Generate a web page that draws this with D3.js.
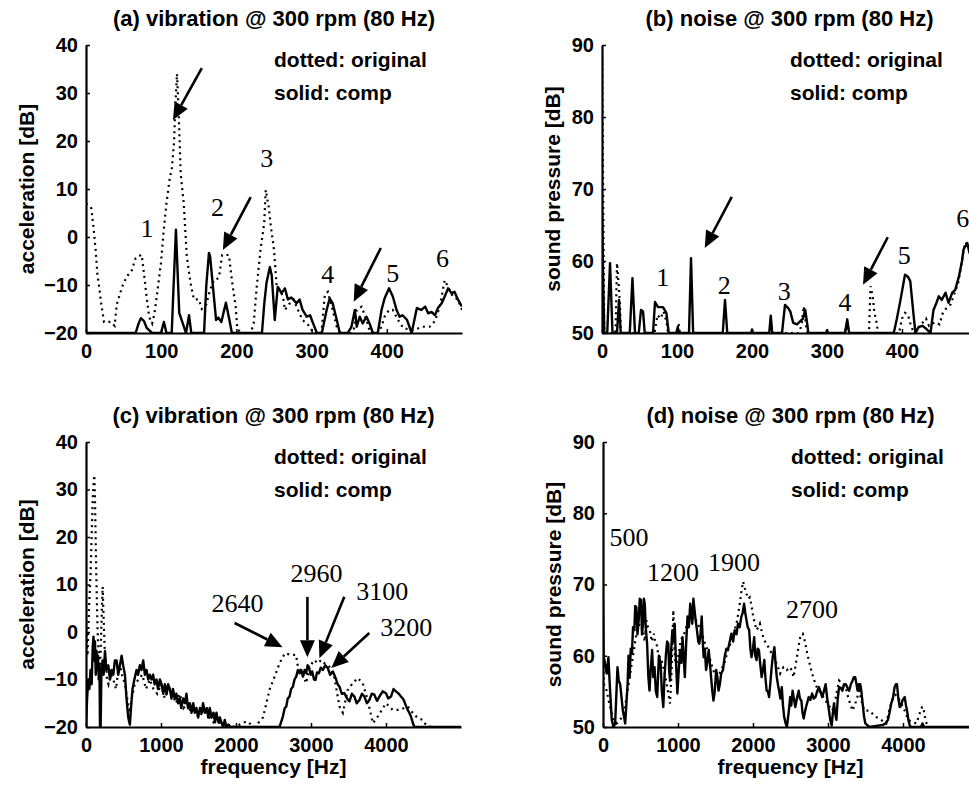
<!DOCTYPE html>
<html>
<head>
<meta charset="utf-8">
<script src="https://cdn.jsdelivr.net/npm/d3@7"></script>
<style>
  body { margin: 0; background: #fff; }
  svg { display: block; }
</style>
</head>
<body>
<div id="chart"></div>
<script>
// tick values
const xTicksLow = [0, 100, 200, 300, 400];
const xTicksHigh = [0, 1000, 2000, 3000, 4000];
const yTicksVib = [-20, -10, 0, 10, 20, 30, 40];
const yTicksNoise = [50, 60, 70, 80, 90];

const panelTitles = [
  "(a) vibration @ 300 rpm (80 Hz)",
  "(b) noise @ 300 rpm (80 Hz)",
  "(c) vibration @ 300 rpm (80 Hz)",
  "(d) noise @ 300 rpm (80 Hz)"
];
const legendLines = ["dotted: original", "solid: comp"];

// (a) vibration 0-500 Hz, [Hz, dB]
const vibLowOrig = [[0,7],[4,6.5],[7,6],[10,2],[13,-3],[15,-7.5],[18,-11],[20,-13.7],[24,-17.7],[33,-17.7],[38,-18.5],
  [41,-14],[48,-10.4],[54,-8.3],[61,-6.9],[66,-4.4],[70,-4],[74,-3.7],[77,-7.5],[80,-11.7],[84,-16.7],[88,-18],[91,-16],
  [94,-12.5],[99.7,-5.4],[103,0.8],[107,7],[111.6,12.5],[114,14],[117,19.6],[119,28],[121,34],[123,27],[126,13],[130,7],
  [134,-4],[139,-9.6],[143.5,-13],[150,-13],[154,-15],[160,-14],[165,-11],[170,-9],[173,-9],[177,-8.3],[181,-3.75],
  [190,-3.75],[194,-9],[199,-14.5],[201,-18.7],[205,-20],[219,-20],[223,-18],[227,-10.4],[232,-2.7],[237,2.9],[239,9.8],
  [243,6.25],[246,2],[250,-2.7],[253.6,-10.4],[258,-11],[262,-12.4],[264.5,-15.2],[270,-14],[276,-13],[282,-15.2],
  [288,-17.3],[298,-18.7],[302,-20],[313,-20],[317.6,-12],[321.6,-11.4],[328,-15.2],[333.5,-18.7],[338,-20],[352,-20],
  [356,-19.4],[360,-15.2],[366.5,-14.5],[373,-17.3],[378,-20],[388,-20],[393,-18.7],[397,-16.6],[403,-15.2],[408,-15.2],
  [415,-17.3],[422,-19],[435,-19.4],[448,-18.7],[457,-18.7],[464,-17.5],[470.5,-14.5],[477,-9],[481.5,-10.4],[488,-12.4],
  [494.5,-13],[500,-15.2]];
const vibLowComp = [[0,-20],[66,-20],[70,-18],[73,-16.9],[77,-17.5],[81,-19],[88,-20],[99.7,-20],[103.6,-17.7],[107,-20],
  [114,-20],[116,-12],[119.6,1.5],[122,-8],[124,-15.8],[128,-17.7],[133,-20],[137,-16.3],[140,-20],[157,-20],[160,-10],
  [163.5,-3.3],[165,-4],[168,-9],[173,-17.3],[176,-16.8],[180,-17.7],[186,-13.7],[190,-16.7],[194,-20],[234,-20],
  [237,-14],[240,-9.6],[244.5,-6.25],[247,-8],[251,-17.3],[255,-10.4],[260,-11.7],[264.5,-10.7],[268.5,-13],[273,-12.6],
  [280,-13.8],[284,-13],[288,-15.2],[293.5,-16.6],[298,-16.3],[302,-18],[307,-20],[313.6,-20],[320,-15.2],[324,-12.8],
  [328,-13.8],[333.5,-17.3],[337.5,-20],[348,-20],[353,-18.7],[357.5,-15.2],[360,-18.7],[364,-16.6],[368,-18],[373,-16.6],
  [377,-18],[381.5,-20],[388,-20],[393,-15.2],[397,-12.8],[403,-10.7],[408,-12.4],[413,-15.2],[417,-16.6],[421,-16.3],
  [427,-17.3],[433,-20],[440,-14.8],[446,-15.2],[451,-14.5],[455,-15.9],[459.5,-15.6],[464,-16.3],[468,-14.8],[473,-13.8],
  [477,-12.4],[481.5,-10.7],[486,-11.7],[490,-11.4],[494.5,-13],[500,-14.5]];

// (b) noise 0-500 Hz
const noiseLowOrig = [[0,90],[1.5,70],[3,50],[18,50],[20,59.7],[22,57],[24,54],[25,50],[70,50],[74,52.5],[78,52],[82,53],
  [86,51.5],[88,50],[100,50],[102,51.4],[104,50],[262,50],[266,51],[269,53.7],[272,51],[274,50],[324,50],[326.7,51.4],
  [329,50],[356,50],[358,56.5],[361,55],[363,53],[366,51.5],[368,50],[396,50],[400,52],[404,52.8],[408,52.5],[412,51],
  [416,50],[428,51.5],[432,52],[436,51],[444,51.5],[450,51.2],[455,53],[460,53.5],[465,54],[470,55.5],[475,57],[480,60],
  [484,62.6],[488,62.3],[492,61],[496,61.5],[500,62]];
const noiseLowComp = [[0,67],[1.5,58],[3,50],[7,50],[10.7,59.7],[14,50],[20,50],[22.7,54.6],[25,50],[37,50],[40.6,57.6],
  [44,50],[49,50],[52,53.2],[54.7,53],[57,50],[68,50],[70.7,54.3],[74.7,53.6],[81.3,53.6],[85.8,52.8],[89,50],[99,50],
  [101,50.8],[103,50],[116,50],[118.7,60.4],[121.5,50],[161,50],[164,54.6],[167,50],[199,50],[200,50.5],[201,50],[223,50],
  [225,52.4],[227,50],[240,50],[244,53.9],[248,53.5],[251,53],[255,51.4],[260,51.2],[264,51.6],[268,52],[271,53.2],[274,51],
  [275,50],[299,50],[300,50.4],[301,50],[324,50],[327,51.9],[329.5,50],[389,50],[393,51.9],[398,54.6],[404,58.1],[408,57.8],
  [411,57.2],[414,54],[416,51.9],[418,50],[422,50.8],[427,51],[431,50.7],[436,50.2],[438,50],[442,53.2],[446,54.2],
  [449,55.1],[453,54.6],[458,55.6],[462,54.2],[467,55.6],[471,56],[476,57.9],[480,60],[482,61.6],[487,62.5],[490,61.1],
  [495,62],[500,63]];

// (c) vibration 0-5000 Hz
const vibHighOrig = [[0,2],[20,-5],[40,5],[60,12],[75,20],[90,28],[100,31],[111,33],[120,28],[130,18],[140,10],[155,0],
  [170,-5],[185,-8],[200,-2],[212,5],[222,9.5],[235,3],[250,-4],[265,-6],[280,-10],[300,-11],[330,-9],[364,-10],[400,-12],
  [430,-8],[452,-7],[480,-9],[520,-11],[550,-14],[580,-17],[610,-14],[650,-11],[700,-10],[750,-9],[800,-12],[850,-10],
  [900,-12],[950,-13],[1000,-11],[1050,-14],[1100,-12],[1150,-13],[1200,-15],[1250,-13],[1300,-16],[1350,-15],[1400,-17],
  [1450,-16],[1500,-18],[1550,-17],[1600,-16],[1650,-18],[1700,-19],[1750,-18],[1800,-20],[1870,-19.5],[1950,-20],
  [2050,-19.5],[2140,-18.8],[2250,-20],[2360,-18],[2450,-12],[2515,-9.4],[2580,-6.6],[2650,-4.5],[2740,-4.8],[2800,-4.8],
  [2825,-7.3],[2890,-8.7],[2935,-10.8],[2980,-7.3],[3045,-5.9],[3090,-6.6],[3135,-5.9],[3180,-6.6],[3245,-7.3],[3310,-9.4],
  [3380,-15.7],[3425,-17],[3490,-12.2],[3555,-10.8],[3625,-9.7],[3690,-10.8],[3755,-14.3],[3825,-19.2],[3890,-17.8],
  [4000,-15],[4090,-16.4],[4180,-16.4],[4290,-15.7],[4355,-17],[4420,-18.1],[4490,-18.5],[4530,-19.5],[4600,-20]];
const vibHighComp = [[0,-20],[15,-14],[30,-10],[45,-12],[60,-8],[75,-11],[90,-3],[100,-1],[110,-6],[120,-2],[130,-9],
  [140,-4],[150,-8],[160,-5],[170,-10],[180,-7],[186,-20],[195,-20],[205,-9],[220,-6],[235,-9],[253,-4],[270,-8],[297,-7],
  [320,-10],[340,-8],[364,-9],[385,-6],[408,-6],[430,-9],[452,-7],[475,-5],[495,-7],[519,-9],[540,-14],[563,-18],
  [585,-19.5],[600,-16],[620,-12],[645,-10],[674,-8],[695,-9],[718,-7],[740,-8],[763,-6],[785,-9],[807,-8],[830,-10],
  [850,-9],[874,-10],[895,-9],[915,-11],[940,-10],[960,-12],[985,-10],[1007,-11],[1030,-13],[1051,-11],[1075,-13],
  [1095,-11],[1118,-12],[1140,-14],[1160,-12],[1184,-14],[1205,-13],[1228,-15],[1250,-14],[1270,-16],[1295,-14],[1320,-15],
  [1339,-13],[1360,-16],[1385,-15],[1406,-17],[1430,-15],[1450,-17],[1472,-16],[1495,-18],[1520,-16],[1545,-17],[1561,-15],
  [1585,-17],[1610,-16],[1630,-18],[1650,-16],[1675,-18],[1700,-17],[1720,-19],[1739,-17],[1765,-19],[1785,-18],[1805,-19],
  [1830,-20],[1850,-18.5],[1872,-20],[1900,-19.5],[1930,-20],[2581,-20],[2600,-19],[2625,-17.8],[2650,-16],[2670,-15.7],
  [2690,-14],[2714,-13.6],[2735,-12],[2759,-11.5],[2780,-10],[2803,-9.4],[2825,-8],[2847,-8.7],[2870,-8],[2892,-9.4],
  [2915,-8],[2936,-8.7],[2955,-7],[2971,-7.3],[2995,-9],[3016,-8.3],[3040,-10],[3060,-10.1],[3080,-8.5],[3105,-8.7],
  [3130,-7.5],[3158,-8],[3190,-7],[3224,-7.6],[3255,-9],[3291,-8.3],[3310,-9],[3335,-10],[3355,-11],[3380,-11.5],
  [3410,-13],[3446,-12.9],[3480,-14],[3513,-14.6],[3545,-13],[3579,-13.6],[3610,-15],[3646,-14.3],[3680,-13],[3712,-13.6],
  [3745,-15],[3779,-14.3],[3810,-13],[3845,-13.2],[3880,-14.5],[3912,-13.6],[3955,-12.5],[4000,-12.9],[4030,-14],
  [4067,-13.6],[4100,-12],[4133,-12.5],[4170,-13],[4200,-13.6],[4225,-14],[4244,-14.6],[4265,-15.5],[4289,-16.4],
  [4310,-17],[4333,-17.8],[4355,-19],[4377,-20],[5000,-20]];

// (d) noise 0-5000 Hz
const noiseHighOrig = [[0,62],[5,60],[13,56],[49,55.1],[90,53],[139,51],[180,50.5],[229,51],[280,52],[341,56],[400,60],
  [453,63.6],[490,64.5],[534,63.6],[555,62],[579,65],[600,64],[624,63.6],[650,62],[678,63.1],[695,62],[714,61.7],[740,60],
  [768,59.8],[790,59],[813,58],[850,56],[894,53.3],[915,58],[938,66.4],[950,62],[961,58.9],[980,59],[1001,59.8],[1020,61],
  [1037,62.2],[1080,63],[1127,64.5],[1170,65],[1217,65.5],[1260,64.5],[1307,63.6],[1350,62],[1396,60.8],[1440,59],
  [1486,57.5],[1530,57],[1576,58],[1620,59],[1666,60.8],[1710,62],[1756,63.6],[1790,65],[1823,67.3],[1845,69],[1868,70.4],
  [1890,69.5],[1913,68.7],[1935,68],[1958,68.2],[1980,67],[2003,65.5],[2025,64.5],[2047,63.6],[2070,64],[2092,64.5],
  [2115,63.5],[2137,62.6],[2160,62],[2182,61.7],[2215,61],[2249,60.3],[2270,60],[2294,59.4],[2330,58.5],[2362,57.5],
  [2385,58],[2407,58.4],[2430,58.3],[2452,58],[2475,58.2],[2496,58.4],[2520,57.8],[2541,57],[2565,58.5],[2586,59.8],
  [2610,61.5],[2631,62.6],[2650,63],[2663,63.1],[2680,62.5],[2699,61.7],[2720,60.5],[2743,59.4],[2765,58.5],[2788,57.5],
  [2810,56.8],[2833,56],[2855,55.5],[2878,55.1],[2920,54.5],[2968,53.7],[3010,53],[3058,52.3],[3100,54],[3148,56.5],
  [3190,56],[3237,55.6],[3260,54.5],[3282,53.7],[3305,53],[3327,52.3],[3370,53.5],[3417,55.1],[3450,53.5],[3484,52.3],
  [3520,52.3],[3552,52.3],[3600,51.8],[3642,51.4],[3680,51.2],[3709,51],[3745,50.7],[3777,50.5],[3820,52.5],[3866,54.2],
  [3900,54.5],[3934,54.2],[3965,53.5],[4001,52.8],[4035,52],[4068,51],[4120,50.7],[4180,50.5],[4210,51.5],[4234,52.3],
  [4255,52.8],[4270,52.8],[4290,51.5],[4315,50.5],[4350,50],[5000,50]];
const noiseHighComp = [[0,68],[8,60],[27,58.9],[50,57.5],[72,59.8],[95,55],[117,51],[140,50],[162,50.5],[193,58.4],
  [210,56.5],[229,56],[265,52.3],[296,50.5],[328,56],[340,60],[355,57],[370,61],[386,60.3],[400,64],[418,63.6],[430,67],
  [445,66.8],[460,63],[476,65],[490,68],[507,67.8],[520,63],[534,64.5],[545,68],[557,67.3],[570,64],[588,61.7],[605,57],
  [620,55.1],[635,58],[655,60.8],[670,57],[687,58.4],[705,55],[723,54.2],[745,60],[768,58.9],[785,55],[804,52.8],[820,57],
  [840,60.3],[855,62],[871,61.7],[882,58],[894,56.5],[910,61],[925,63.6],[940,62],[956,64.5],[970,60],[992,54.7],[1010,58],
  [1028,60.8],[1045,59],[1060,62.6],[1075,60],[1091,57],[1110,62],[1127,65.5],[1145,64],[1163,67.3],[1175,66],[1190,64.5],
  [1205,68],[1217,66.8],[1235,65],[1253,63.6],[1270,62],[1284,61.7],[1300,63],[1316,65.5],[1330,62],[1342,59.8],[1358,61],
  [1374,58],[1390,59],[1410,60.8],[1425,59],[1441,57],[1458,55],[1473,53.7],[1490,55],[1509,58],[1525,57],[1540,55.1],
  [1558,56],[1576,57.5],[1600,58],[1621,59.8],[1645,61],[1666,60.8],[1690,62],[1711,63.1],[1735,62],[1756,63.6],[1780,63],
  [1800,64.5],[1822,64],[1845,65.5],[1862,66],[1881,67.3],[1897,66],[1913,65],[1930,64],[1949,63.6],[1965,61],[1980,59.8],
  [2000,61],[2016,62.6],[2030,60],[2047,59.4],[2062,61],[2079,60.8],[2095,59],[2115,57],[2133,58],[2151,59.4],[2165,57],
  [2182,55.1],[2198,55],[2214,54.2],[2230,56],[2249,58.4],[2265,60],[2285,61.2],[2300,59],[2317,57],[2332,56],[2348,55.1],
  [2365,54],[2384,55.6],[2400,53],[2416,51.4],[2435,50.5],[2452,50],[2475,52],[2496,54.2],[2510,53],[2528,55.1],[2545,54],
  [2564,52.8],[2585,54],[2609,55.1],[2625,54],[2645,53.7],[2660,52],[2676,51.2],[2690,52],[2707,52.8],[2725,53.5],
  [2743,54.2],[2765,53.8],[2788,54.7],[2810,54],[2833,54.2],[2855,55],[2878,55.6],[2900,55],[2923,54.2],[2945,55],
  [2968,56],[2990,54],[3013,52.3],[3030,51],[3049,50.2],[3065,52],[3080,53.3],[3095,52],[3112,51],[3130,54],[3148,55.6],
  [3170,55.5],[3192,55.1],[3215,56],[3237,56],[3260,55.5],[3282,55.1],[3305,56],[3327,56.5],[3345,57],[3363,57],[3380,56],
  [3394,55.1],[3410,56],[3430,56],[3445,55],[3462,53.3],[3480,51.5],[3498,50.5],[3552,50],[3731,50.3],[3765,50.5],
  [3799,51],[3820,52],[3843,53.3],[3865,54],[3888,55.6],[3905,56],[3920,56],[3938,54],[3956,52.8],[3975,53],[3992,53.7],
  [4008,54],[4023,54.2],[4040,53],[4054,52.3],[4072,51],[4090,50.2],[4110,50],[4240,50],[4260,50.5],[4280,50],[5000,50]];

// annotation labels, [text, Hz, dB] (text centre)
const vibLowLabels = [["1",81,1.9],["2",175,6.25],["3",240.5,16.5],["4",321.6,-7.7],["5",408,-7.5],["6",474,-4.4]];
const noiseLowLabels = [["1",81,57.8],["2",163,56.7],["3",243,55.8],["4",324,54.3],["5",403,60.8],["6",481,66]];
const vibHighLabels = [["2640",2021,6.1],["2960",3072,12.4],["3100",3949,8.6],["3200",4269,1]];
const noiseHighLabels = [["500",347,76.7],["1200",933,71.8],["1900",1747,73.2],["2700",2787,66.6]];

// arrows, [fromHz, fromdB, toHz, todB]
const vibLowArrows = [[154,35.2,115.6,24.4],[219,8.3,182,-2.7],[392,-2.3,356,-13.5]];
const noiseLowArrows = [[173,68.9,137,61.8],[381,63.3,348,56.7]];
const vibHighArrows = [[1981,1.9,2620,-3.2],[2952,7.4,2952,-5.3],[3444,7.4,3112,-5.5],[3777,-0.2,3271,-7.6]];

const sansFont = "'Liberation Sans', Arial, Helvetica, sans-serif";
const serifFont = "'Liberation Serif', 'Times New Roman', serif";

const panels = [
  {left: 86, top: 45, width: 376, height: 288, xMax: 500, xTicks: xTicksLow, yDomain: [-20, 40], yTicks: yTicksVib,
   yLabel: "acceleration [dB]", yLabelOff: 59, orig: vibLowOrig, comp: vibLowComp, labels: vibLowLabels, arrows: vibLowArrows},
  {left: 602, top: 45, width: 375, height: 288, xMax: 500, xTicks: xTicksLow, yDomain: [50, 90], yTicks: yTicksNoise,
   yLabel: "sound pressure [dB]", yLabelOff: 49, orig: noiseLowOrig, comp: noiseLowComp, labels: noiseLowLabels, arrows: noiseLowArrows},
  {left: 86, top: 442, width: 375, height: 285, xMax: 5000, xTicks: xTicksHigh, yDomain: [-20, 40], yTicks: yTicksVib,
   yLabel: "acceleration [dB]", yLabelOff: 59, xLabel: "frequency [Hz]", orig: vibHighOrig, comp: vibHighComp, labels: vibHighLabels, arrows: vibHighArrows},
  {left: 603, top: 442, width: 375, height: 285, xMax: 5000, xTicks: xTicksHigh, yDomain: [50, 90], yTicks: yTicksNoise,
   yLabel: "sound pressure [dB]", yLabelOff: 49, xLabel: "frequency [Hz]", orig: noiseHighOrig, comp: noiseHighComp, labels: noiseHighLabels, arrows: []}
];

const svg = d3.select("#chart")
  .append("svg")
  .attr("width", 969)
  .attr("height", 788);

function drawPanel(p, i) {
  const x = d3.scaleLinear().domain([0, p.xMax]).range([p.left, p.left + p.width]);
  const y = d3.scaleLinear().domain(p.yDomain).range([p.top + p.height, p.top]);
  const bottom = p.top + p.height;

  svg.append("clipPath").attr("id", `clip${i}`)
    .append("rect")
    .attr("x", p.left).attr("y", p.top - 2)
    .attr("width", p.width).attr("height", p.height + 3);

  const line = d3.line().x(d => x(d[0])).y(d => y(d[1]));

  const plot = svg.append("g").attr("clip-path", `url(#clip${i})`);
  plot.append("path")
    .datum(p.orig)
    .attr("fill", "none")
    .attr("stroke", "#000")
    .attr("stroke-width", 2.2)
    .attr("stroke-dasharray", "2 4")
    .attr("d", line);
  plot.append("path")
    .datum(p.comp)
    .attr("fill", "none")
    .attr("stroke", "#000")
    .attr("stroke-width", 2.4)
    .attr("stroke-linejoin", "round")
    .attr("d", line);

  // axes (inward ticks, matlab style)
  const gx = svg.append("g")
    .attr("transform", `translate(0,${bottom})`)
    .call(d3.axisBottom(x).tickValues(p.xTicks).tickFormat(d3.format("d"))
      .tickSizeInner(-4).tickSizeOuter(0).tickPadding(11));
  const gy = svg.append("g")
    .attr("transform", `translate(${p.left},0)`)
    .call(d3.axisLeft(y).tickValues(p.yTicks).tickFormat(d3.format("d"))
      .tickSizeInner(-4).tickSizeOuter(0).tickPadding(8));
  [gx, gy].forEach(g => {
    g.select(".domain").attr("stroke", "#000").attr("stroke-width", 2.2);
    g.selectAll(".tick line").attr("stroke", "#000").attr("stroke-width", 1.5);
    g.selectAll(".tick text")
      .attr("fill", "#000")
      .style("font-family", sansFont)
      .style("font-size", "20px")
      .style("font-weight", "bold");
  });

  svg.append("text")
    .attr("x", p.left + p.width / 2)
    .attr("y", p.top - 19)
    .attr("text-anchor", "middle")
    .style("font-family", sansFont)
    .style("font-size", "22px")
    .style("font-weight", "bold")
    .text(panelTitles[i]);

  legendLines.forEach((t, k) => {
    svg.append("text")
      .attr("x", p.left + 188)
      .attr("y", p.top + 22 + k * 33)
      .style("font-family", sansFont)
      .style("font-size", "21px")
      .style("font-weight", "bold")
      .text(t);
  });

  svg.append("text")
    .attr("transform", `translate(${p.left - p.yLabelOff},${p.top + p.height / 2}) rotate(-90)`)
    .attr("text-anchor", "middle")
    .attr("dy", "0.35em")
    .style("font-family", sansFont)
    .style("font-size", "21px")
    .style("font-weight", "bold")
    .text(p.yLabel);

  if (p.xLabel) {
    svg.append("text")
      .attr("x", p.left + p.width / 2)
      .attr("y", bottom + 47)
      .attr("text-anchor", "middle")
      .style("font-family", sansFont)
      .style("font-size", "21px")
      .style("font-weight", "bold")
      .text(p.xLabel);
  }

  p.labels.forEach(d => {
    svg.append("text")
      .attr("x", x(d[1]))
      .attr("y", y(d[2]))
      .attr("dy", "0.35em")
      .attr("text-anchor", "middle")
      .style("font-family", serifFont)
      .style("font-size", "26px")
      .text(d[0]);
  });

  p.arrows.forEach(a => {
    const x0 = x(a[0]), y0 = y(a[1]), x1 = x(a[2]), y1 = y(a[3]);
    const ang = Math.atan2(y1 - y0, x1 - x0);
    const headLen = 17, headW = 7.5;
    const bx = x1 - headLen * Math.cos(ang), by = y1 - headLen * Math.sin(ang);
    svg.append("line")
      .attr("x1", x0).attr("y1", y0).attr("x2", bx).attr("y2", by)
      .attr("stroke", "#000").attr("stroke-width", 2.6);
    const pts = [
      [x1, y1],
      [bx + headW * Math.sin(ang), by - headW * Math.cos(ang)],
      [bx - headW * Math.sin(ang), by + headW * Math.cos(ang)]
    ];
    svg.append("polygon")
      .attr("points", pts.map(q => q.join(",")).join(" "))
      .attr("fill", "#000");
  });
}

panels.forEach(drawPanel);
</script>
</body>
</html>
